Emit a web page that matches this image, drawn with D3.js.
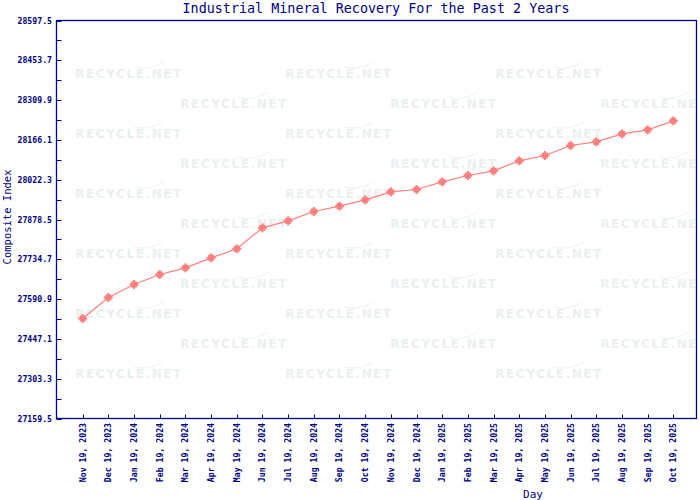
<!DOCTYPE html>
<html>
<head>
<meta charset="utf-8">
<script src="https://cdn.jsdelivr.net/npm/d3@7/dist/d3.min.js"></script>
<style>
  html, body { margin: 0; padding: 0; background: #ffffff; }
  svg { display: block; }
</style>
</head>
<body>
<svg id="chart" width="700" height="500"></svg>
<script>
const title = "Industrial Mineral Recovery For the Past 2 Years";
const xTitle = "Day";
const yTitle = "Composite Index";
const categories = [
  "Nov 19, 2023","Dec 19, 2023","Jan 19, 2024","Feb 19, 2024","Mar 19, 2024","Apr 19, 2024",
  "May 19, 2024","Jun 19, 2024","Jul 19, 2024","Aug 19, 2024","Sep 19, 2024","Oct 19, 2024",
  "Nov 19, 2024","Dec 19, 2024","Jan 19, 2025","Feb 19, 2025","Mar 19, 2025","Apr 19, 2025",
  "May 19, 2025","Jun 19, 2025","Jul 19, 2025","Aug 19, 2025","Sep 19, 2025","Oct 19, 2025"
];
const values = [
  27520.8, 27596.7, 27643.7, 27679.8, 27703.9, 27740.0,
  27772.5, 27848.4, 27873.7, 27907.4, 27926.7, 27949.5,
  27978.5, 27986.9, 28014.5, 28037.5, 28054.3, 28090.5,
  28109.7, 28145.9, 28159.1, 28188.0, 28202.5, 28235.0
];
const yTickLabels = ["27159.5","27303.3","27447.1","27590.9","27734.7","27878.5","28022.3","28166.1","28309.9","28453.7","28597.5"];
const yMinorStep = 71.9;

const navy = "#000080";
const lineColor = "#ff7f7f";
const mono = "'DejaVu Sans Mono', 'Liberation Mono', monospace";

const svg = d3.select("#chart");
const L = 56.5, R = 696.5, T = 20.5, B = 418.5;

const x = d3.scalePoint().domain(categories).range([57, 699]).padding(1);
const yDomain = [+yTickLabels[0], +yTickLabels[yTickLabels.length - 1]];
const y = d3.scaleLinear().domain(yDomain).range([418.5, 20.5]);

// watermark (background decoration, clipped to the plot like the reference)
svg.append("clipPath").attr("id", "plotclip")
  .append("rect").attr("x", L).attr("y", T).attr("width", R - L).attr("height", B - T);
const wm = svg.append("g").attr("class", "watermark").attr("clip-path", "url(#plotclip)");
const rowCount = 11;
for (let r = 0; r < rowCount; r++) {
  const cy = 73 + r * 30;
  const xs = (r % 2 === 0) ? [129, 339, 549] : [234, 444, 654];
  xs.forEach(cx => {
    wm.append("text")
      .attr("x", cx).attr("y", cy + 5)
      .attr("text-anchor", "middle")
      .attr("font-family", "'DejaVu Sans', sans-serif")
      .attr("font-weight", "bold")
      .attr("font-size", 12)
      .attr("letter-spacing", 1.6)
      .attr("fill", "#eaf0f0")
      .text("RECYCLE.NET");
    wm.append("path")
      .attr("d", `M${cx + 5},${cy - 6} Q${cx + 20},${cy - 2} ${cx + 34},${cy - 11}`)
      .attr("fill", "none")
      .attr("stroke", "#eef2f2")
      .attr("stroke-width", 1);
  });
}

// frame
svg.append("rect")
  .attr("x", L).attr("y", T).attr("width", R - L).attr("height", B - T)
  .attr("fill", "none").attr("stroke", navy).attr("stroke-width", 1.3);

// y ticks (inward)
const yTickVals = d3.range(0, Math.round((yDomain[1] - yDomain[0]) / yMinorStep) + 1)
  .map(i => yDomain[0] + i * yMinorStep);
svg.append("g").selectAll("line").data(yTickVals).join("line")
  .attr("x1", L).attr("x2", L + 5)
  .attr("y1", d => Math.round(y(d)) + 0.5).attr("y2", d => Math.round(y(d)) + 0.5)
  .attr("stroke", navy).attr("stroke-width", 1);
svg.append("g").selectAll("text").data(yTickLabels).join("text")
  .attr("x", 52).attr("y", d => y(+d) + 3)
  .attr("text-anchor", "end")
  .attr("font-family", mono).attr("font-size", 8.2).attr("font-weight", "bold")
  .attr("fill", navy)
  .text(d => d);

// x ticks (inward)
svg.append("g").selectAll("line").data(categories).join("line")
  .attr("x1", d => Math.round(x(d)) + 0.5).attr("x2", d => Math.round(x(d)) + 0.5)
  .attr("y1", B - 4).attr("y2", B)
  .attr("stroke", navy).attr("stroke-width", 1);
svg.append("g").selectAll("text").data(categories).join("text")
  .attr("transform", d => `translate(${x(d) + 3},423) rotate(-90)`)
  .attr("text-anchor", "end")
  .attr("font-family", mono).attr("font-size", 8.2).attr("font-weight", "bold")
  .attr("fill", navy)
  .text(d => d);

// titles
svg.append("text")
  .attr("x", 376).attr("y", 13)
  .attr("text-anchor", "middle")
  .attr("font-family", mono).attr("font-size", 13.4)
  .attr("fill", navy).text(title);
svg.append("text")
  .attr("x", 533).attr("y", 498)
  .attr("text-anchor", "middle")
  .attr("font-family", mono).attr("font-size", 11)
  .attr("fill", navy).text(xTitle);
svg.append("text")
  .attr("transform", "translate(11,217) rotate(-90)")
  .attr("text-anchor", "middle")
  .attr("font-family", mono).attr("font-size", 10.5)
  .attr("fill", navy).text(yTitle);

// line
const line = d3.line()
  .x((d, i) => x(categories[i]))
  .y(d => y(d));
svg.append("path")
  .datum(values)
  .attr("d", line)
  .attr("fill", "none")
  .attr("stroke", lineColor)
  .attr("stroke-width", 1.2);

// markers
const mk = svg.append("g").selectAll("g").data(values).join("g")
  .attr("transform", (d, i) => `translate(${x(categories[i])},${y(d)})`);
mk.append("rect").attr("x", -3).attr("y", -3).attr("width", 6).attr("height", 6).attr("fill", lineColor);
mk.append("rect").attr("x", -1).attr("y", -4.5).attr("width", 2).attr("height", 9).attr("fill", lineColor);
mk.append("rect").attr("x", -4.5).attr("y", -1).attr("width", 9).attr("height", 2).attr("fill", lineColor);
</script>
</body>
</html>
